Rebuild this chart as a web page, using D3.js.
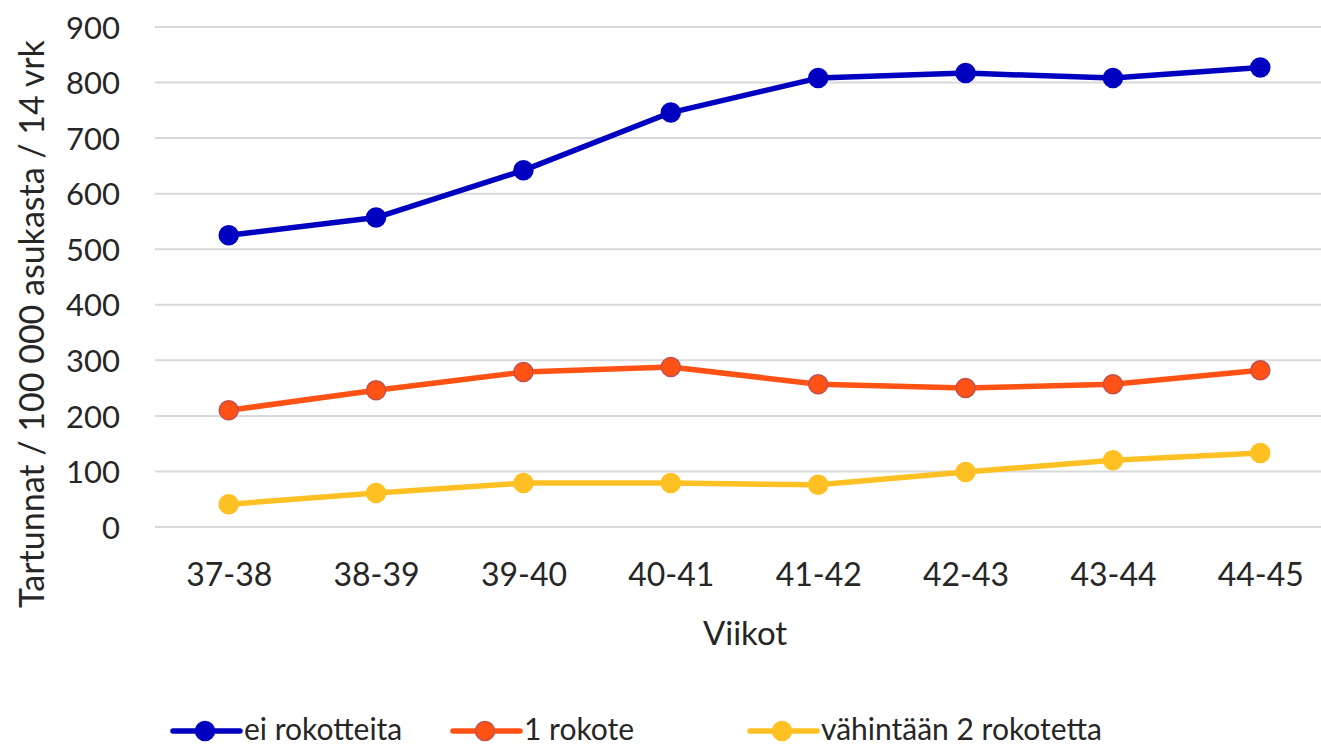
<!DOCTYPE html>
<html>
<head>
<meta charset="utf-8">
<script src="https://cdn.jsdelivr.net/npm/d3@7"></script>
<style>
  body { margin: 0; background: #fff; }
  svg text { font-family: Lato, "Open Sans", sans-serif; fill: #262626; }
</style>
</head>
<body>
<div id="chart"></div>
<script>
const weeks = ["37-38", "38-39", "39-40", "40-41", "41-42", "42-43", "43-44", "44-45"];
const noVaccine = [525, 557, 642, 746, 808, 817, 808, 827];
const oneDose = [210, 246, 279, 288, 257, 250, 257, 282];
const twoDoses = [41, 61, 79, 79, 76, 99, 120, 133];
const yTicks = [0, 100, 200, 300, 400, 500, 600, 700, 800, 900];

const series = [
  {name: "ei rokotteita", values: noVaccine, color: "#0000c0", stroke: "#0000c0"},
  {name: "1 rokote", values: oneDose, color: "#ff5214", stroke: "#c0504d"},
  {name: "vähintään 2 rokotetta", values: twoDoses, color: "#ffc024", stroke: "#ffc024"}
];

const width = 1321, height = 747;
const margins = {l: 155, r: -13, t: 27, b: 220};
const fontSize = 31;

const svg = d3.select("#chart").append("svg")
  .attr("width", width).attr("height", height);

const xScale = d3.scalePoint()
  .domain(weeks)
  .range([margins.l, width - margins.r])
  .padding(0.5);

const yScale = d3.scaleLinear()
  .domain([0, 900])
  .range([height - margins.b, margins.t]);

// gridlines
svg.append("g")
  .selectAll("line")
  .data(yTicks)
  .join("line")
  .attr("x1", margins.l).attr("x2", width)
  .attr("y1", d => yScale(d)).attr("y2", d => yScale(d))
  .attr("stroke", "#d9d9d9").attr("stroke-width", 2);

// y axis labels
let yAxis = svg.append("g")
  .attr("transform", `translate(${margins.l - 35}, 0)`)
  .call(d3.axisLeft(yScale).tickValues(yTicks).tickSize(0).tickPadding(0));
yAxis.select(".domain").remove();
yAxis.selectAll("text").attr("font-size", fontSize).attr("dy", "0.36em");

// x axis labels
let xAxis = svg.append("g")
  .attr("transform", `translate(0, 586)`)
  .call(d3.axisBottom(xScale).tickSize(0).tickPadding(0));
xAxis.select(".domain").remove();
xAxis.selectAll("text").attr("font-size", 32).attr("dy", 0);

// axis titles
svg.append("text")
  .attr("x", 745).attr("y", 645)
  .attr("text-anchor", "middle")
  .attr("font-size", 33)
  .text("Viikot");

svg.append("text")
  .attr("transform", "translate(44, 324) rotate(-90)")
  .attr("text-anchor", "middle")
  .attr("font-size", 34)
  .text("Tartunnat / 100 000 asukasta / 14 vrk");

// lines and markers
const line = d3.line()
  .x((d, i) => xScale(weeks[i]))
  .y(d => yScale(d));

series.forEach(s => {
  let g = svg.append("g");
  g.append("path")
    .datum(s.values)
    .attr("d", line)
    .attr("fill", "none")
    .attr("stroke", s.color)
    .attr("stroke-width", 5.5)
    .attr("stroke-linejoin", "round");
  g.selectAll("circle")
    .data(s.values)
    .join("circle")
    .attr("cx", (d, i) => xScale(weeks[i]))
    .attr("cy", d => yScale(d))
    .attr("r", 9.5)
    .attr("fill", s.color)
    .attr("stroke", s.stroke)
    .attr("stroke-width", 1.5);
});

// legend
const legendX = [173, 453, 750];
const legend = svg.append("g");
series.forEach((s, i) => {
  let g = legend.append("g").attr("transform", `translate(${legendX[i]}, 731)`);
  g.append("line")
    .attr("x1", 0).attr("x2", 67)
    .attr("stroke", s.color).attr("stroke-width", 5.5)
    .attr("stroke-linecap", "round");
  g.append("circle")
    .attr("cx", 32).attr("r", 9.5)
    .attr("fill", s.color).attr("stroke", s.stroke).attr("stroke-width", 1.5);
  g.append("text")
    .attr("x", 71).attr("dy", "0.3em")
    .attr("font-size", 30)
    .text(s.name);
});
</script>
</body>
</html>
